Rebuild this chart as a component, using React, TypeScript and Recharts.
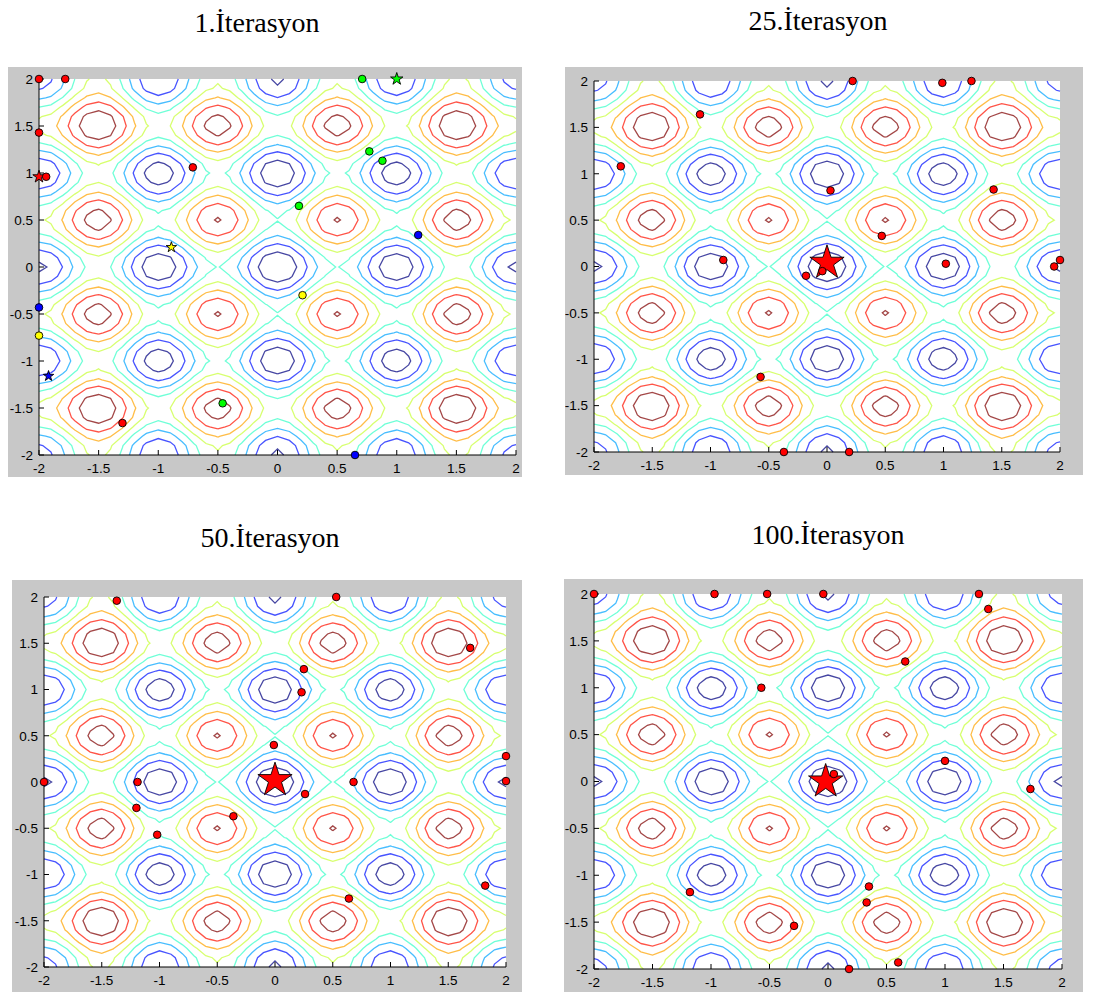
import type { ReactNode } from 'react'
import { CartesianGrid, ComposedChart, Line, Scatter, XAxis, YAxis } from 'recharts'

type Pt = { x: number; y: number }
type LinePt = { x: number; y: number | null }

const TICKS = [-2, -1.5, -1, -0.5, 0, 0.5, 1, 1.5, 2]
const CONTOUR_LEVELS = [5, 10, 15, 20, 25, 30, 35, 40]
const LEVEL_COLORS = ['#000080', '#0012ff', '#00a3ff', '#37ffc8', '#c8ff37', '#ffa300', '#ff1200', '#800000']
const GRID_STEP = 0.1

// 1. iterasyon
const IT1_RED: Pt[] = [
  { x: -2, y: 2 }, { x: -1.78, y: 2 }, { x: -2, y: 1.43 }, { x: -1.94, y: 0.96 },
  { x: -0.71, y: 1.06 }, { x: -1.3, y: -1.66 },
]
const IT1_GREEN: Pt[] = [
  { x: 0.71, y: 2 }, { x: 0.77, y: 1.23 }, { x: 0.88, y: 1.13 }, { x: 0.18, y: 0.65 }, { x: -0.46, y: -1.45 },
]
const IT1_YELLOW: Pt[] = [{ x: 0.21, y: -0.3 }, { x: -2, y: -0.73 }]
const IT1_BLUE: Pt[] = [{ x: 1.18, y: 0.34 }, { x: -2, y: -0.43 }, { x: 0.65, y: -2 }]
const IT1_STAR_RED: Pt[] = [{ x: -2, y: 0.96 }]
const IT1_STAR_GREEN: Pt[] = [{ x: 1.0, y: 2 }]
const IT1_STAR_YELLOW: Pt[] = [{ x: -0.89, y: 0.21 }]
const IT1_STAR_BLUE: Pt[] = [{ x: -1.92, y: -1.16 }]

// 25. iterasyon
const IT25_RED: Pt[] = [
  { x: 0.22, y: 2 }, { x: 0.99, y: 1.98 }, { x: 1.24, y: 2 }, { x: -1.09, y: 1.64 }, { x: -1.77, y: 1.08 },
  { x: 0.03, y: 0.82 }, { x: 1.43, y: 0.83 }, { x: 0.47, y: 0.33 }, { x: -0.89, y: 0.07 }, { x: 1.02, y: 0.03 },
  { x: 1.95, y: 0.0 }, { x: 2.0, y: 0.07 }, { x: -0.04, y: -0.05 }, { x: -0.18, y: -0.1 }, { x: -0.57, y: -1.19 },
  { x: -0.37, y: -2 }, { x: 0.19, y: -2 },
]
const IT25_BEST: Pt[] = [{ x: 0.0, y: 0.04 }]

// 50. iterasyon
const IT50_RED: Pt[] = [
  { x: -1.37, y: 1.96 }, { x: 0.53, y: 2 }, { x: 1.69, y: 1.45 }, { x: 0.25, y: 1.22 }, { x: 0.23, y: 0.97 },
  { x: -0.01, y: 0.4 }, { x: 2.0, y: 0.28 }, { x: -2, y: 0 }, { x: -1.19, y: 0 }, { x: 0.68, y: 0 },
  { x: 2.0, y: 0.01 }, { x: 0.26, y: -0.13 }, { x: -1.2, y: -0.28 }, { x: -0.36, y: -0.37 },
  { x: -1.02, y: -0.57 }, { x: 1.82, y: -1.12 }, { x: 0.64, y: -1.26 },
]
const IT50_BEST: Pt[] = [{ x: 0.0, y: 0.02 }]

// 100. iterasyon
const IT100_RED: Pt[] = [
  { x: -2, y: 2 }, { x: -0.97, y: 2 }, { x: -0.52, y: 2 }, { x: -0.04, y: 2 }, { x: 1.29, y: 2 },
  { x: 1.37, y: 1.84 }, { x: 0.66, y: 1.28 }, { x: -0.57, y: 1.0 }, { x: 1.0, y: 0.22 }, { x: 0.05, y: 0.08 },
  { x: 1.73, y: -0.08 }, { x: -1.18, y: -1.18 }, { x: 0.35, y: -1.12 }, { x: 0.33, y: -1.29 },
  { x: -0.29, y: -1.54 }, { x: 0.6, y: -1.93 }, { x: 0.18, y: -2 },
]
const IT100_BEST: Pt[] = [{ x: -0.02, y: 0.0 }]

// the surface drawn under the swarm (Rastrigin)
const surface = (x: number, y: number) =>
  20 + x * x + y * y - 10 * (Math.cos(2 * Math.PI * x) + Math.cos(2 * Math.PI * y))

function contourData(level: number): LinePt[] {
  const n = Math.round(4 / GRID_STEP)
  const g = Array.from({ length: n + 1 }, (_, i) => -2 + i * GRID_STEP)
  const z = g.map((yy) => g.map((xx) => surface(xx, yy)))
  const cross = (i1: number, j1: number, i2: number, j2: number): Pt => {
    const a = z[j1][i1]
    const b = z[j2][i2]
    const t = (level - a) / (b - a)
    return { x: g[i1] + (g[i2] - g[i1]) * t, y: g[j1] + (g[j2] - g[j1]) * t }
  }
  const segs: [Pt, Pt][] = []
  for (let j = 0; j < n; j++) {
    for (let i = 0; i < n; i++) {
      const v0 = z[j][i] >= level
      const v1 = z[j][i + 1] >= level
      const v2 = z[j + 1][i + 1] >= level
      const v3 = z[j + 1][i] >= level
      const e: (Pt | null)[] = [
        v0 !== v1 ? cross(i, j, i + 1, j) : null,
        v1 !== v2 ? cross(i + 1, j, i + 1, j + 1) : null,
        v2 !== v3 ? cross(i, j + 1, i + 1, j + 1) : null,
        v3 !== v0 ? cross(i, j, i, j + 1) : null,
      ]
      const hits = e.filter((p) => p !== null) as Pt[]
      if (hits.length === 2) segs.push([hits[0], hits[1]])
      else if (hits.length === 4) {
        const centre = (z[j][i] + z[j][i + 1] + z[j + 1][i + 1] + z[j + 1][i]) / 4 >= level
        if (centre === v0) {
          segs.push([e[0]!, e[1]!])
          segs.push([e[2]!, e[3]!])
        } else {
          segs.push([e[3]!, e[0]!])
          segs.push([e[1]!, e[2]!])
        }
      }
    }
  }
  const key = (p: Pt) => `${p.x.toFixed(6)},${p.y.toFixed(6)}`
  const byKey = new Map<string, number[]>()
  segs.forEach(([a, b], idx) => {
    for (const k of [key(a), key(b)]) {
      if (!byKey.has(k)) byKey.set(k, [])
      byKey.get(k)!.push(idx)
    }
  })
  const used = segs.map(() => false)
  const out: LinePt[] = []
  segs.forEach((s, idx) => {
    if (used[idx]) return
    used[idx] = true
    const line: Pt[] = [s[0], s[1]]
    for (const atEnd of [true, false]) {
      let grown = true
      while (grown) {
        grown = false
        const tip = atEnd ? line[line.length - 1] : line[0]
        const k = key(tip)
        for (const other of byKey.get(k) ?? []) {
          if (used[other]) continue
          used[other] = true
          const [p, q] = segs[other]
          const next = key(p) === k ? q : p
          if (atEnd) line.push(next)
          else line.unshift(next)
          grown = true
          break
        }
      }
    }
    out.push(...line, { x: line[line.length - 1].x, y: null })
  })
  return out
}

const CONTOURS = CONTOUR_LEVELS.map((lvl) => contourData(lvl))

const SANS = '"Liberation Sans", Arial, Helvetica, sans-serif'
const SERIF = '"Liberation Serif", "Times New Roman", serif'
const FRAME_GREY = '#c8c8c8'

const dotShape = (fill: string) => (props: any) => (
  <circle cx={props.cx} cy={props.cy} r={3.8} fill={fill} stroke="#000" strokeWidth={0.9} />
)

const starShape = (fill: string, radius: number) => (props: any) => {
  const pts: string[] = []
  for (let k = 0; k < 10; k++) {
    const r = k % 2 === 0 ? radius : radius * 0.382
    const a = -Math.PI / 2 + (k * Math.PI) / 5
    pts.push(`${props.cx + r * Math.cos(a)},${props.cy + r * Math.sin(a)}`)
  }
  return <polygon points={pts.join(' ')} fill={fill} stroke="#000" strokeWidth={0.9} />
}

type Marks = { data: Pt[]; fill: string; star?: number }

type PanelProps = {
  left: number
  top: number
  width: number
  height: number
  axisLeft: number
  axisBottom: number
  marginTop: number
  marginRight: number
  marks: Marks[]
}

function Panel({ left, top, width, height, axisLeft, axisBottom, marginTop, marginRight, marks }: PanelProps) {
  const tickStyle = { fill: '#000', fontSize: 13.5, fontFamily: SANS }
  return (
    <div style={{ position: 'absolute', left, top, width, height, background: FRAME_GREY }}>
      <ComposedChart width={width} height={height} margin={{ top: marginTop, right: marginRight, bottom: 0, left: 0 }}>
        <CartesianGrid fill="#ffffff" fillOpacity={1} horizontal={false} vertical={false} />
        <XAxis
          type="number"
          dataKey="x"
          domain={[-2, 2]}
          ticks={TICKS}
          interval={0}
          height={axisBottom}
          tickSize={-5}
          tickMargin={13}
          stroke="#000"
          tick={tickStyle}
        />
        <XAxis
          xAxisId="top"
          orientation="top"
          type="number"
          dataKey="x"
          domain={[-2, 2]}
          ticks={TICKS}
          interval={0}
          height={0}
          tickSize={-5}
          stroke="#000"
          tick={false}
        />
        <YAxis
          type="number"
          dataKey="y"
          domain={[-2, 2]}
          ticks={TICKS}
          interval={0}
          width={axisLeft}
          tickSize={-5}
          tickMargin={11}
          stroke="#000"
          tick={tickStyle}
        />
        <YAxis
          yAxisId="right"
          orientation="right"
          type="number"
          dataKey="y"
          domain={[-2, 2]}
          ticks={TICKS}
          interval={0}
          width={0}
          tickSize={-5}
          stroke="#000"
          tick={false}
        />
        {CONTOURS.map((data, i) => (
          <Line
            key={`lvl-${i}`}
            data={data}
            dataKey="y"
            type="linear"
            stroke={LEVEL_COLORS[i]}
            strokeWidth={1.3}
            strokeOpacity={0.72}
            dot={false}
            activeDot={false}
            isAnimationActive={false}
          />
        ))}
        {marks.map((m, i) => (
          <Scatter
            key={`m-${i}`}
            data={m.data}
            dataKey="y"
            shape={m.star ? starShape(m.fill, m.star) : dotShape(m.fill)}
            isAnimationActive={false}
          />
        ))}
      </ComposedChart>
    </div>
  )
}

function Title({ x, y, children }: { x: number; y: number; children: ReactNode }) {
  return (
    <div
      style={{
        position: 'absolute',
        left: x - 150,
        top: y,
        width: 300,
        textAlign: 'center',
        fontFamily: SERIF,
        fontSize: 28,
        lineHeight: '28px',
        color: '#000',
      }}
    >
      {children}
    </div>
  )
}

export default function App() {
  return (
    <div style={{ position: 'absolute', left: 0, top: 0, width: 1096, height: 992, background: '#fff' }}>
      <Title x={257} y={9}>1.İterasyon</Title>
      <Title x={818} y={7}>25.İterasyon</Title>
      <Title x={270} y={524}>50.İterasyon</Title>
      <Title x={828} y={521}>100.İterasyon</Title>
      <Panel
        left={8} top={67} width={514} height={410}
        axisLeft={31} axisBottom={22} marginTop={12} marginRight={6}
        marks={[
          { data: IT1_STAR_RED, fill: '#ff0000', star: 6.5 },
          { data: IT1_RED, fill: '#ff0000' },
          { data: IT1_GREEN, fill: '#00ff00' },
          { data: IT1_YELLOW, fill: '#ffff00' },
          { data: IT1_BLUE, fill: '#0000ff' },
          { data: IT1_STAR_GREEN, fill: '#00ff00', star: 6.5 },
          { data: IT1_STAR_YELLOW, fill: '#ffff00', star: 5.5 },
          { data: IT1_STAR_BLUE, fill: '#0000ff', star: 5.5 },
        ]}
      />
      <Panel
        left={565} top={67} width={518} height={408}
        axisLeft={29} axisBottom={23} marginTop={14} marginRight={23}
        marks={[
          { data: IT25_BEST, fill: '#ff0000', star: 18 },
          { data: IT25_RED, fill: '#ff0000' },
        ]}
      />
      <Panel
        left={12} top={580} width={510} height={412}
        axisLeft={32} axisBottom={25} marginTop={17} marginRight={16}
        marks={[
          { data: IT50_BEST, fill: '#ff0000', star: 18 },
          { data: IT50_RED, fill: '#ff0000' },
        ]}
      />
      <Panel
        left={564} top={579} width={519} height={413}
        axisLeft={30} axisBottom={23} marginTop={15} marginRight={21}
        marks={[
          { data: IT100_BEST, fill: '#ff0000', star: 18 },
          { data: IT100_RED, fill: '#ff0000' },
        ]}
      />
    </div>
  )
}
